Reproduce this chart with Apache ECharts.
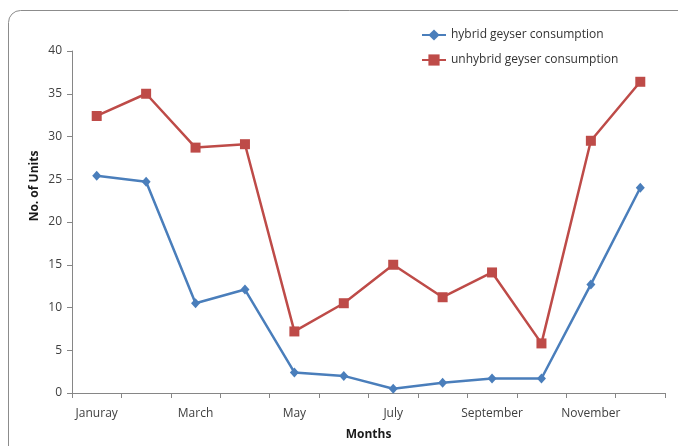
<!DOCTYPE html>
<html>
<head>
<meta charset="utf-8">
<script src="https://cdn.jsdelivr.net/npm/echarts@6/dist/echarts.min.js"></script>
<style>
  html, body { margin: 0; padding: 0; background: #fff; }
  #chart { width: 678px; height: 446px; }
</style>
</head>
<body>
<div id="chart"></div>
<script>
// Monthly energy use of a geyser, with and without the hybrid system
const months = ['Januray', 'February', 'March', 'April', 'May', 'June',
                'July', 'August', 'September', 'October', 'November', 'December'];
const hybrid = [25.4, 24.7, 10.5, 12.1, 2.4, 2.0, 0.5, 1.2, 1.7, 1.7, 12.7, 24.0];
const unhybrid = [32.4, 35.0, 28.7, 29.1, 7.2, 10.5, 15.0, 11.2, 14.1, 5.8, 29.5, 36.4];
const yTicks = { min: 0, max: 40, interval: 5 };

const labelFont = { fontFamily: 'Open Sans, sans-serif', fontSize: 12, color: '#404040' };
const axisGray = '#868686';

const chart = echarts.init(document.getElementById('chart'), null, { renderer: 'canvas' });
chart.setOption({
  animation: false,
  backgroundColor: '#fff',
  graphic: [
    {
      type: 'rect',
      shape: { x: 8.5, y: 10.5, width: 720, height: 480, r: 12 },
      style: { fill: 'none', stroke: '#8c8c8c', lineWidth: 1 },
      silent: true
    },
    {
      type: 'text',
      x: 35, y: 186,
      rotation: Math.PI / 2,
      style: {
        text: 'No. of Units',
        font: 'bold 12px "Open Sans", sans-serif',
        fill: '#1a1a1a',
        align: 'center',
        verticalAlign: 'middle'
      }
    }
  ],
  legend: {
    orient: 'vertical',
    left: 416,
    top: 24,
    itemGap: 13,
    itemWidth: 24,
    itemHeight: 14,
    textStyle: { fontFamily: 'Open Sans, sans-serif', fontSize: 12, color: '#333' },
    data: ['hybrid geyser consumption', 'unhybrid geyser consumption']
  },
  grid: { left: 72, width: 593, top: 51, height: 345, containLabel: false },
  xAxis: {
    type: 'category',
    data: months,
    boundaryGap: true,
    name: 'Months',
    nameLocation: 'middle',
    nameGap: 36,
    nameTextStyle: { fontFamily: 'Open Sans, sans-serif', fontSize: 12, fontWeight: 'bold', color: '#1a1a1a' },
    axisLine: { lineStyle: { color: axisGray } },
    axisTick: { show: true, length: 5, interval: 0, lineStyle: { color: axisGray } },
    axisLabel: Object.assign({ interval: 1, margin: 15 }, labelFont)
  },
  yAxis: {
    type: 'value',
    min: yTicks.min,
    max: yTicks.max,
    interval: yTicks.interval,
    axisLine: { show: true, lineStyle: { color: axisGray } },
    axisTick: { show: true, length: 5, lineStyle: { color: axisGray } },
    splitLine: { show: false },
    axisLabel: Object.assign({ margin: 10 }, labelFont)
  },
  series: [
    {
      name: 'hybrid geyser consumption',
      type: 'line',
      data: hybrid,
      symbol: 'diamond',
      symbolSize: [9, 10],
      lineStyle: { color: '#4a7ebb', width: 2.5 },
      itemStyle: { color: '#4a7ebb' }
    },
    {
      name: 'unhybrid geyser consumption',
      type: 'line',
      data: unhybrid,
      symbol: 'rect',
      symbolSize: 10,
      lineStyle: { color: '#be4b48', width: 2.5 },
      itemStyle: { color: '#be4b48' }
    }
  ]
});
</script>
</body>
</html>
